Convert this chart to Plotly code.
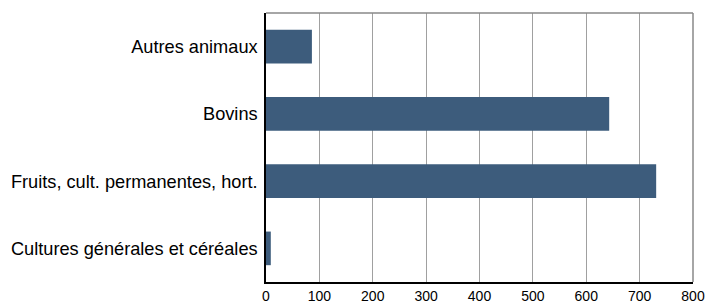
import plotly.graph_objects as go

categories = ["Cultures générales et céréales", "Fruits, cult. permanentes, hort.", "Bovins", "Autres animaux"]
values = [9, 731, 643, 86]
x_ticks = [0, 100, 200, 300, 400, 500, 600, 700, 800]

fig = go.Figure(go.Bar(
    y=categories, x=values, orientation="h",
    marker=dict(color="#3d5c7c", line=dict(width=0)),
    width=0.5,
))

fig.update_layout(
    width=706, height=305,
    margin=dict(l=266, r=13, t=13, b=23),
    paper_bgcolor="white", plot_bgcolor="white",
    font=dict(family="Liberation Sans, Arial, sans-serif", size=14, color="#000"),
    showlegend=False,
    bargap=0.5,
    shapes=[
        dict(type="line", xref="paper", yref="paper", x0=0, x1=1, y0=1, y1=1,
             line=dict(color="#888", width=1.5)),
        dict(type="line", xref="paper", yref="paper", x0=1, x1=1, y0=0, y1=1,
             line=dict(color="#888", width=1.5)),
    ],
)
fig.update_xaxes(
    range=[0, 800], tickvals=x_ticks, showgrid=True, gridcolor="#a0a0a0", gridwidth=1,
    showline=True, linecolor="#000", linewidth=1.5, ticks="", zeroline=False,
    tickfont=dict(size=14), automargin=False, ticklabeloverflow="allow",
)
fig.update_yaxes(
    categoryorder="array", categoryarray=categories, showgrid=False,
    showline=True, linecolor="#000", linewidth=1.5, ticks="", ticklen=0,
    tickfont=dict(size=18.2), automargin=False, ticklabelstandoff=3,
    ticklabeloverflow="allow",
)

fig.write_html(
    "out.html",
    config={"displayModeBar": False},
    post_script="document.body.style.margin='0';document.body.style.overflow='hidden';",
)
